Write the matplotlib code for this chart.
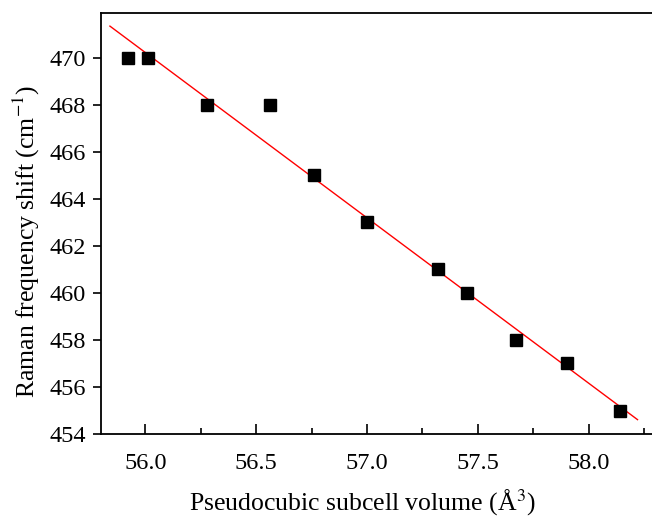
import numpy as np
import matplotlib
matplotlib.use("Agg")
import matplotlib.pyplot as plt
from matplotlib.ticker import MultipleLocator

plt.rcParams['font.family'] = ['Liberation Serif', 'DejaVu Serif']
plt.rcParams['mathtext.fontset'] = 'stix'

volume = [55.92, 56.01, 56.28, 56.56, 56.76, 57.00, 57.32, 57.45, 57.67, 57.90, 58.14]
shift = [470, 470, 468, 468, 465, 463, 461, 460, 458, 457, 455]

# linear fit
k, b = np.polyfit(volume, shift, 1)
xf = np.array([55.84, 58.22])

fig = plt.figure(figsize=(6.52, 5.17), dpi=100)
ax = fig.add_axes([0.155, 0.1605, 0.85, 0.8143])

ax.plot(xf, k * xf + b, color='red', lw=1.0)
ax.plot(volume, shift, 's', color='black', ms=8, clip_on=False)

ax.set_xlim(55.8, 58.3)
ax.set_ylim(454, 471.9)
ax.xaxis.set_major_locator(MultipleLocator(0.5))
ax.xaxis.set_minor_locator(MultipleLocator(0.25))
ax.yaxis.set_major_locator(MultipleLocator(2))

ax.tick_params(axis='x', which='major', direction='in', length=7, width=1.2, labelsize=17.5, pad=14)
ax.tick_params(axis='x', which='minor', direction='in', length=4, width=1.2)
ax.tick_params(axis='y', which='major', direction='out', length=6, width=1.2, labelsize=17.5, pad=5)
ax.xaxis.set_major_formatter(matplotlib.ticker.FormatStrFormatter('%.1f'))

for s in ax.spines.values():
    s.set_linewidth(1.3)

ax.set_xlabel('Pseudocubic subcell volume (Å$^3$)', fontsize=18.5, va='top')
ax.set_ylabel('Raman frequency shift (cm$^{\\mathrm{-1}}$)', fontsize=18.5)
ax.xaxis.set_label_coords(0.471, -0.127)
ax.yaxis.set_label_coords(-0.106, 0.458)

fig.savefig('out.png', dpi=100)
